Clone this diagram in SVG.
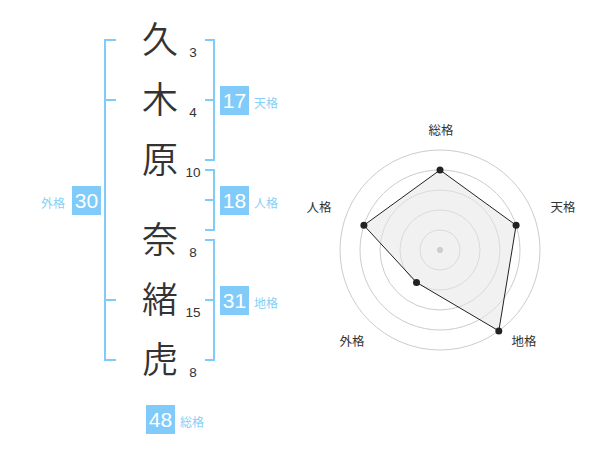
<svg xmlns="http://www.w3.org/2000/svg" width="600" height="470" viewBox="0 0 600 470">
<style>
.ch{font-family:"Noto Sans CJK JP","Noto Sans CJK SC",sans-serif;font-size:36px;font-weight:350;fill:#333;text-anchor:middle}
.st{font-family:"Liberation Sans",Arial,sans-serif;font-size:13.5px;fill:#333;text-anchor:middle}
.br{fill:none;stroke:#80cbf8;stroke-width:2}
.box{fill:#80cbf9}
.num{font-family:"Liberation Sans",Arial,sans-serif;font-size:21px;fill:#fff;text-anchor:middle}
.lb{font-family:"Noto Sans CJK JP","Noto Sans CJK SC",sans-serif;font-size:12px;fill:#86cff7}
.rl{font-family:"Noto Sans CJK JP","Noto Sans CJK SC",sans-serif;font-size:12.5px;fill:#333;text-anchor:middle}
.ring{fill:none;stroke:#ccc;stroke-width:1}
</style>
<rect width="600" height="470" fill="#fff"/>
<g id="chars">
<g id="c1"><text class="ch" x="160" y="53">久</text><text class="st" x="193" y="57">3</text></g>
<g id="c2"><text class="ch" x="160" y="113">木</text><text class="st" x="193" y="117">4</text></g>
<g id="c3"><text class="ch" x="160" y="173">原</text><text class="st" x="193" y="177">10</text></g>
<g id="c4"><text class="ch" x="160" y="253">奈</text><text class="st" x="193" y="257">8</text></g>
<g id="c5"><text class="ch" x="160" y="313">緒</text><text class="st" x="193" y="317">15</text></g>
<g id="c6"><text class="ch" x="160" y="373">虎</text><text class="st" x="193" y="377">8</text></g>
</g>
<g id="connectors">
<path class="br" d="M116,40 H105 V360 H116 M105,100 H116 M105,300 H116"/>
<path class="br" d="M205,40 H214 V160 H205 M205,100 H214"/>
<path class="br" d="M205,170 H214 V230 H205 M205,200 H214"/>
<path class="br" d="M205,240 H214 V360 H205 M205,300 H214"/>
</g>
<g id="tenkaku"><rect class="box" x="220" y="86" width="29" height="29"/><text class="num" x="234.5" y="108">17</text><text class="lb" x="254" y="108">天格</text></g>
<g id="jinkaku"><rect class="box" x="220" y="186" width="29" height="29"/><text class="num" x="234.5" y="208">18</text><text class="lb" x="254" y="208">人格</text></g>
<g id="chikaku"><rect class="box" x="220" y="286" width="29" height="29"/><text class="num" x="234.5" y="308">31</text><text class="lb" x="254" y="308">地格</text></g>
<g id="gaikaku"><rect class="box" x="72" y="186" width="29" height="29"/><text class="num" x="86.5" y="208">30</text><text class="lb" x="41" y="208">外格</text></g>
<g id="soukaku"><rect class="box" x="146" y="405" width="29" height="29"/><text class="num" x="160.5" y="427">48</text><text class="lb" x="180" y="427">総格</text></g>
<g id="radar">
<circle class="ring" cx="440" cy="250" r="20"/>
<circle class="ring" cx="440" cy="250" r="40"/>
<circle class="ring" cx="440" cy="250" r="60"/>
<circle class="ring" cx="440" cy="250" r="80"/>
<circle class="ring" cx="440" cy="250" r="100"/>
<polygon points="440,170 516.1,225.3 498.8,330.9 416.5,282.4 363.9,225.3" fill="#e6e6e6" fill-opacity="0.55" stroke="#222" stroke-width="1"/>
<circle cx="440" cy="250" r="3" fill="#ccc"/>
<g fill="#222">
<circle cx="440" cy="170" r="3.5"/>
<circle cx="516.1" cy="225.3" r="3.5"/>
<circle cx="498.8" cy="330.9" r="3.5"/>
<circle cx="416.5" cy="282.4" r="3.5"/>
<circle cx="363.9" cy="225.3" r="3.5"/>
</g>
<text class="rl" x="441" y="135">総格</text>
<text class="rl" x="563" y="212">天格</text>
<text class="rl" x="524" y="346">地格</text>
<text class="rl" x="352" y="346">外格</text>
<text class="rl" x="319" y="212">人格</text>
</g>
</svg>
